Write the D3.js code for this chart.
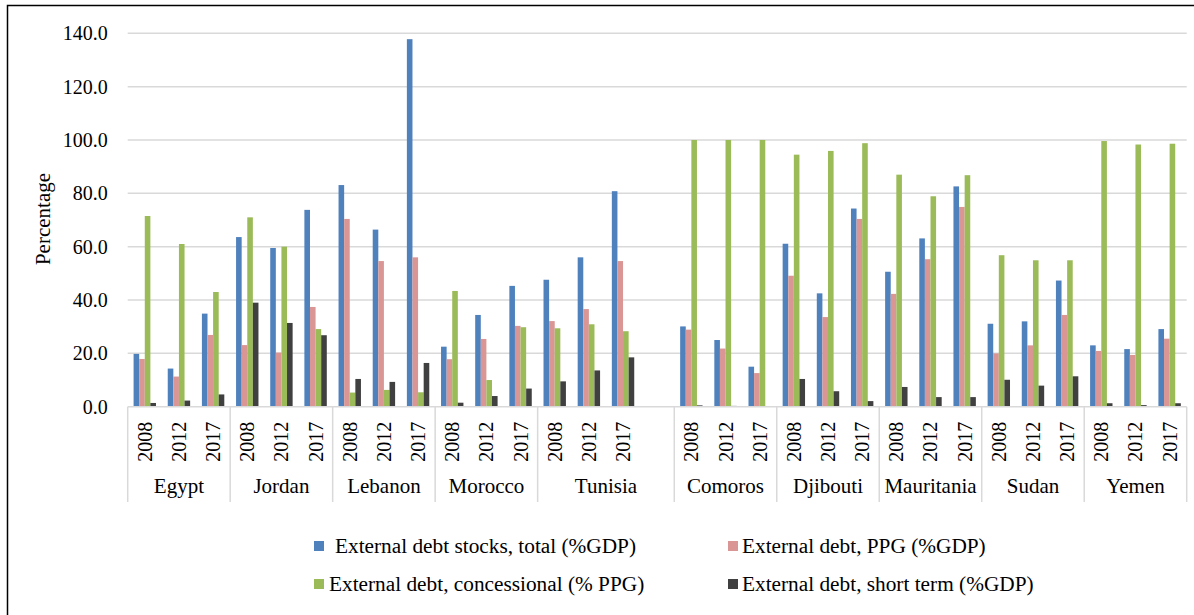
<!DOCTYPE html>
<html>
<head>
<meta charset="utf-8">
<script src="https://cdn.jsdelivr.net/npm/d3@7"></script>
<style>
  html, body { margin: 0; padding: 0; background: #fff; }
  svg { display: block; }
  text { font-family: "Liberation Serif", "Times New Roman", serif; fill: #000; }
</style>
</head>
<body>
<svg id="chart" width="1194" height="615"></svg>
<script>
// Countries (MENA group, then the LDC group) and observation years
const countries = ["Egypt", "Jordan", "Lebanon", "Morocco", "Tunisia",
                   "Comoros", "Djibouti", "Mauritania", "Sudan", "Yemen"];
const years = ["2008", "2012", "2017"];
// an empty slot after this country separates the two country groups
const spacerAfter = "Tunisia";

// Values per country/year, country-major order (%)
const debtStocksTotal = [
  19.8, 14.3, 34.9,   63.6, 59.5, 73.8,   83.1, 66.4, 137.8,  22.5, 34.4, 45.3,  47.6, 56.0, 80.8,
  30.1, 25.0, 15.0,   61.1, 42.5, 74.3,   50.6, 63.1, 82.6,   31.1, 32.0, 47.3,  23.0, 21.6, 29.1
];
const debtPPG = [
  17.9, 11.3, 26.9,   23.1, 20.3, 37.4,   70.4, 54.6, 56.0,   17.8, 25.4, 30.3,  32.1, 36.6, 54.6,
  28.9, 21.8, 12.6,   49.1, 33.6, 70.4,   42.3, 55.3, 74.9,   20.0, 23.0, 34.4,  20.9, 19.4, 25.5
];
const debtConcessional = [
  71.5, 61.0, 43.0,   71.0, 60.0, 29.1,   5.3, 6.3, 5.4,      43.4, 10.0, 29.8,  29.4, 30.9, 28.3,
  100.0, 100.0, 100.0, 94.5, 95.9, 98.8,  87.0, 78.9, 86.8,   56.8, 54.9, 54.9,  99.6, 98.3, 98.6
];
const debtShortTerm = [
  1.4, 2.3, 4.6,      39.0, 31.4, 26.8,   10.4, 9.3, 16.4,    1.5, 4.0, 6.8,     9.5, 13.6, 18.5,
  0.5, 0.3, 0.1,      10.4, 5.8, 2.1,     7.4, 3.6, 3.6,      10.1, 7.9, 11.4,   1.3, 0.6, 1.3
];

const seriesNames = [
  "External debt stocks, total (%GDP)",
  "External debt, PPG (%GDP)",
  "External debt, concessional (% PPG)",
  "External debt, short term (%GDP)"
];
const seriesValues = [debtStocksTotal, debtPPG, debtConcessional, debtShortTerm];
const seriesColors = ["#4F81BD", "#D99694", "#9BBB59", "#404040"];

const yTicks = [0, 20, 40, 60, 80, 100, 120, 140];

// ---- slots along the category axis ----
const slots = [];
countries.forEach((c, ci) => {
  years.forEach((yr, yi) => slots.push({ id: c + "|" + yr, country: c, year: yr, idx: ci * years.length + yi }));
  if (c === spacerAfter) slots.push({ id: c + "|gap", country: c, year: "", idx: -1 });
});

const svg = d3.select("#chart");
const plot = { left: 127.7, right: 1186.7, top: 33.3, bottom: 406.7 };

const x = d3.scaleBand().domain(slots.map(s => s.id)).range([plot.left, plot.right]).paddingInner(0).paddingOuter(0);
const xs = d3.scaleBand().domain(d3.range(seriesNames.length)).range([0, x.bandwidth()]).paddingInner(0).paddingOuter(1.05);
const y = d3.scaleLinear().domain([0, 140]).range([plot.bottom, plot.top]);

// outer frame (left and top edges)
svg.append("path")
  .attr("d", `M7.5,615 L7.5,5.5 L1194,5.5`)
  .attr("fill", "none").attr("stroke", "#000").attr("stroke-width", 1.5);

// gridlines
svg.append("g").selectAll("line").data(yTicks.filter(t => t > 0)).join("line")
  .attr("x1", plot.left).attr("x2", plot.right)
  .attr("y1", d => y(d)).attr("y2", d => y(d))
  .attr("stroke", "#D9D9D9").attr("stroke-width", 1.5);

// y axis labels
const yAxis = svg.append("g").attr("transform", `translate(${plot.left},0)`)
  .call(d3.axisLeft(y).tickValues(yTicks).tickFormat(d3.format(".1f")).tickSize(0).tickPadding(20));
yAxis.select(".domain").remove();
yAxis.selectAll("text").attr("font-size", 20).attr("font-family", '"Liberation Serif", "Times New Roman", serif').attr("fill", "#000");

// y axis title
svg.append("text")
  .attr("transform", `translate(43,219) rotate(-90)`)
  .attr("text-anchor", "middle").attr("dy", "0.35em")
  .attr("font-size", 21)
  .text("Percentage");

// bars
const barData = [];
slots.filter(s => s.idx >= 0).forEach(s => {
  seriesValues.forEach((vals, si) => barData.push({ slot: s.id, si, v: vals[s.idx] }));
});
svg.append("g").selectAll("rect").data(barData).join("rect")
  .attr("x", d => x(d.slot) + xs(d.si))
  .attr("width", xs.bandwidth())
  .attr("y", d => y(d.v))
  .attr("height", d => y(0) - y(d.v))
  .attr("fill", d => seriesColors[d.si]);

// category axis baseline
svg.append("line")
  .attr("x1", plot.left).attr("x2", plot.right)
  .attr("y1", y(0)).attr("y2", y(0))
  .attr("stroke", "#D9D9D9").attr("stroke-width", 1.5);

// group separators
const groupBounds = [];
countries.forEach(c => {
  const members = slots.filter(s => s.country === c);
  const x0 = x(members[0].id);
  const x1 = x(members[members.length - 1].id) + x.bandwidth();
  groupBounds.push({ country: c, x0, x1 });
});
const sepXs = [groupBounds[0].x0].concat(groupBounds.map(g => g.x1));
svg.append("g").selectAll("line").data(sepXs).join("line")
  .attr("x1", d => d).attr("x2", d => d)
  .attr("y1", y(0)).attr("y2", 502)
  .attr("stroke", "#D9D9D9").attr("stroke-width", 1.5);

// year labels
svg.append("g").selectAll("text").data(slots.filter(s => s.year)).join("text")
  .attr("transform", d => `translate(${x(d.id) + x.bandwidth() / 2},441.7) rotate(-90)`)
  .attr("text-anchor", "middle").attr("dy", "0.35em")
  .attr("font-size", 20)
  .text(d => d.year);

// country labels
svg.append("g").selectAll("text").data(groupBounds).join("text")
  .attr("x", d => (d.x0 + d.x1) / 2).attr("y", 493)
  .attr("text-anchor", "middle")
  .attr("font-size", 21)
  .text(d => d.country);

// legend
const legendPos = [
  { rx: 314, ry: 541, tx: 335, ty: 553 },
  { rx: 728, ry: 541, tx: 742, ty: 553 },
  { rx: 314, ry: 579, tx: 329, ty: 591 },
  { rx: 728, ry: 579, tx: 742, ty: 591 }
];
const legend = svg.append("g").selectAll("g").data(seriesNames).join("g");
legend.append("rect")
  .attr("x", (d, i) => legendPos[i].rx).attr("y", (d, i) => legendPos[i].ry)
  .attr("width", 10).attr("height", 10)
  .attr("fill", (d, i) => seriesColors[i]);
legend.append("text")
  .attr("x", (d, i) => legendPos[i].tx).attr("y", (d, i) => legendPos[i].ty)
  .attr("font-size", 21.3)
  .text(d => d);
</script>
</body>
</html>
